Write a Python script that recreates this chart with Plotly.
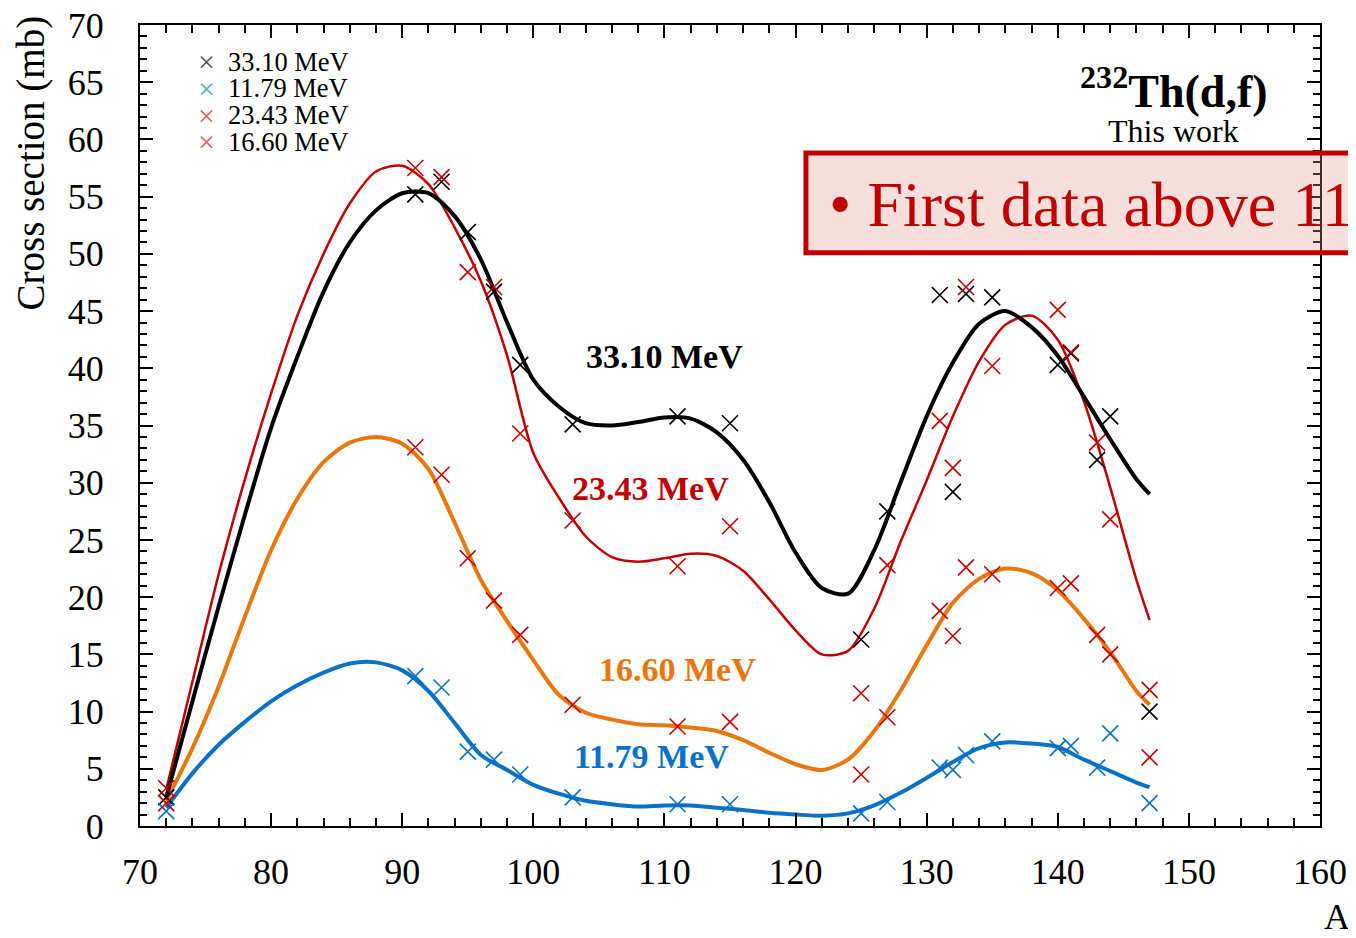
import plotly.graph_objects as go

# mass numbers of the measured fragments
A_pts = [72, 91, 93, 95, 97, 99, 103, 111, 115, 125, 127, 131, 132, 133, 135, 140, 141, 143, 144, 147]

# measured cross sections (mb)
xs_3310 = [2.5, 55.2, 56.3, 51.9, 46.7, 40.3, 35.1, 35.8, 35.2, 16.3, 27.5, 46.4, 29.2, 46.5, 46.2, 40.3, 41.3, 32.0, 35.8, 10.0]
xs_1179 = [1.3, 13.1, 12.1, 6.5, 5.8, 4.5, 2.5, 1.9, 1.9, 1.1, 2.1, 5.1, 4.9, 6.2, 7.4, 6.8, 7.0, 5.1, 8.1, 2.0]
xs_2343 = [3.3, 57.5, 56.7, 48.4, 47.1, 34.3, 26.7, 22.7, 26.2, 11.6, 22.8, 35.4, 31.3, 47.1, 40.2, 45.1, 41.4, 33.5, 26.8, 6.0]
xs_1660 = [2.0, 33.1, 30.7, 23.4, 19.7, 16.7, 10.6, 8.7, 9.1, 4.5, 9.5, 18.8, 16.6, 22.6, 22.0, 20.8, 21.2, 16.7, 15.0, 11.9]

# smooth fitted curves
A_fit = [72, 74, 76, 78, 80, 82, 84, 86, 88, 90, 92, 94, 96, 98, 100, 102, 104, 106, 108, 110,
         112, 114, 116, 118, 120, 122, 124, 126, 128, 130, 132, 134, 136, 138, 140, 142, 144, 146, 147]
fit_3310 = [2.5, 10.9, 19.2, 27.2, 34.8, 41.0, 46.7, 51.0, 53.8, 55.3, 55.3, 53.3, 49.5, 44.0, 39.0, 36.6, 35.2, 35.0, 35.3, 35.7,
            35.6, 34.4, 32.0, 28.3, 23.9, 20.8, 20.3, 24.1, 30.0, 35.8, 40.5, 43.9, 45.0, 43.6, 41.1, 37.5, 33.8, 30.3, 29.0]
fit_2343 = [3.2, 12.6, 22.0, 30.3, 37.8, 44.6, 50.0, 54.4, 57.2, 57.7, 56.1, 52.3, 47.6, 41.1, 32.6, 28.6, 25.3, 23.5, 23.1, 23.4,
            23.8, 23.6, 22.3, 19.8, 17.1, 15.0, 15.3, 19.0, 24.8, 30.2, 35.8, 40.6, 43.8, 44.6, 42.5, 37.1, 29.6, 21.5, 18.0]
fit_1660 = [2.2, 6.8, 12.2, 18.3, 24.1, 28.6, 31.8, 33.5, 34.0, 33.4, 31.2, 26.5, 21.5, 17.9, 14.5, 11.4, 9.9, 9.3, 8.9, 8.8,
            8.6, 8.3, 7.5, 6.4, 5.4, 4.9, 5.8, 8.3, 11.8, 15.8, 19.5, 21.6, 22.5, 22.1, 20.6, 18.1, 15.2, 11.8, 10.6]
fit_1179 = [1.6, 4.6, 7.1, 9.1, 10.9, 12.3, 13.4, 14.2, 14.3, 13.6, 11.8, 9.0, 6.2, 4.9, 3.6, 2.8, 2.2, 1.9, 1.7, 1.8,
            1.8, 1.6, 1.4, 1.15, 1.0, 0.9, 1.1, 1.8, 2.9, 4.2, 5.6, 6.8, 7.3, 7.2, 6.9, 5.8, 4.8, 3.8, 3.4]

legend_names = ["33.10 MeV", "11.79 MeV", "23.43 MeV", "16.60 MeV"]

BLACK = "#000000"
RED = "#c00000"
ORANGE = "#e8770e"
BLUE = "#0a72c4"
SERIF = "Liberation Serif"

# plot area in screen pixels (page has an 8px body margin)
PX_L, PX_R, PX_T, PX_B = 139.5, 1320.5, 25.0, 826.5


def px_x(px):
    return (px - PX_L) / (PX_R - PX_L)


def px_y(py):
    return (PX_B - py) / (PX_B - PX_T)


fig = go.Figure()

# fitted curves
for y, col, w in [(fit_1179, BLUE, 4), (fit_1660, ORANGE, 4), (fit_2343, RED, 2.5), (fit_3310, BLACK, 4)]:
    fig.add_trace(go.Scatter(x=A_fit, y=y, mode="lines",
                             line=dict(color=col, width=w, shape="spline", smoothing=0.8),
                             showlegend=False, hoverinfo="skip"))

# data points
marker_cols = [BLACK, BLUE, RED, RED]
for name, y, col in zip(legend_names, [xs_3310, xs_1179, xs_2343, xs_1660], marker_cols):
    fig.add_trace(go.Scatter(x=A_pts, y=y, mode="markers", name=name, showlegend=False,
                             marker=dict(symbol="x-thin", size=16, color=col,
                                         line=dict(color=col, width=1.6))))

axis_common = dict(showline=True, linewidth=2, linecolor="black", mirror="ticks",
                   ticks="inside", ticklen=13, tickwidth=1.5, tickcolor="black",
                   showgrid=False, zeroline=False, automargin=False, ticklabeloverflow="allow",
                   tickfont=dict(family=SERIF, size=36, color="black"))

fig.update_xaxes(range=[70, 160], tick0=70, dtick=10, ticklabelstandoff=13,
                 minor=dict(dtick=2, ticks="inside", ticklen=8, tickwidth=1.5, tickcolor="black"),
                 **axis_common)
fig.update_yaxes(range=[0, 70], tick0=0, dtick=5, ticklabelstandoff=27,
                 minor=dict(dtick=1, ticks="inside", ticklen=7, tickwidth=1.5, tickcolor="black"),
                 **axis_common)


def note(x, y, text, size, color="black", xref="paper", yref="paper", **kw):
    d = dict(x=x, y=y, xref=xref, yref=yref, text=text, showarrow=False,
             xanchor="center", yanchor="middle", font=dict(family=SERIF, size=size, color=color))
    d.update(kw)
    return d


annotations = [
    note(110.0, 41.0, "<b>33.10 MeV</b>", 34, BLACK, "x", "y"),
    note(108.9, 29.5, "<b>23.43 MeV</b>", 34, RED, "x", "y"),
    note(111.0, 13.7, "<b>16.60 MeV</b>", 34, ORANGE, "x", "y"),
    note(109.05, 6.1, "<b>11.79 MeV</b>", 34, BLUE, "x", "y"),
    note(px_x(1174), px_y(88), "<b><sup>232</sup>Th(d,f)</b>", 46),
    note(px_x(1174), px_y(131), "This work", 32),
    note(px_x(30), px_y(163), "Cross section (mb)", 39, textangle=-90),
    note(px_x(1338), px_y(918), "A", 36),
    note(px_x(827), px_y(205), "• First data above 11", 64, RED, xanchor="left"),
]

# hand-placed legend, tighter than plotly's own
legend_syms = ["#555555", "#5aa8e2", "#e06060", "#e06060"]
for i, (name, col) in enumerate(zip(legend_names, legend_syms)):
    yy = px_y(61.7 + 26.7 * i)
    annotations.append(note(px_x(206), yy, "×", 30, col))
    annotations.append(note(px_x(226), yy, name, 26.5, "black", xanchor="left"))

fig.update_layout(
    width=1348, height=930,
    margin=dict(l=131.5, r=35.5, t=17, b=111.5),
    paper_bgcolor="white", plot_bgcolor="white",
    font=dict(family=SERIF, color="black"),
    showlegend=False,
    annotations=annotations,
    shapes=[dict(type="rect", xref="paper", yref="paper",
                 x0=px_x(806), x1=px_x(1420), y0=px_y(253), y1=px_y(153),
                 line=dict(color=RED, width=5), fillcolor="rgba(226,150,140,0.3)", layer="above")],
)

fig.write_html("out.html")
